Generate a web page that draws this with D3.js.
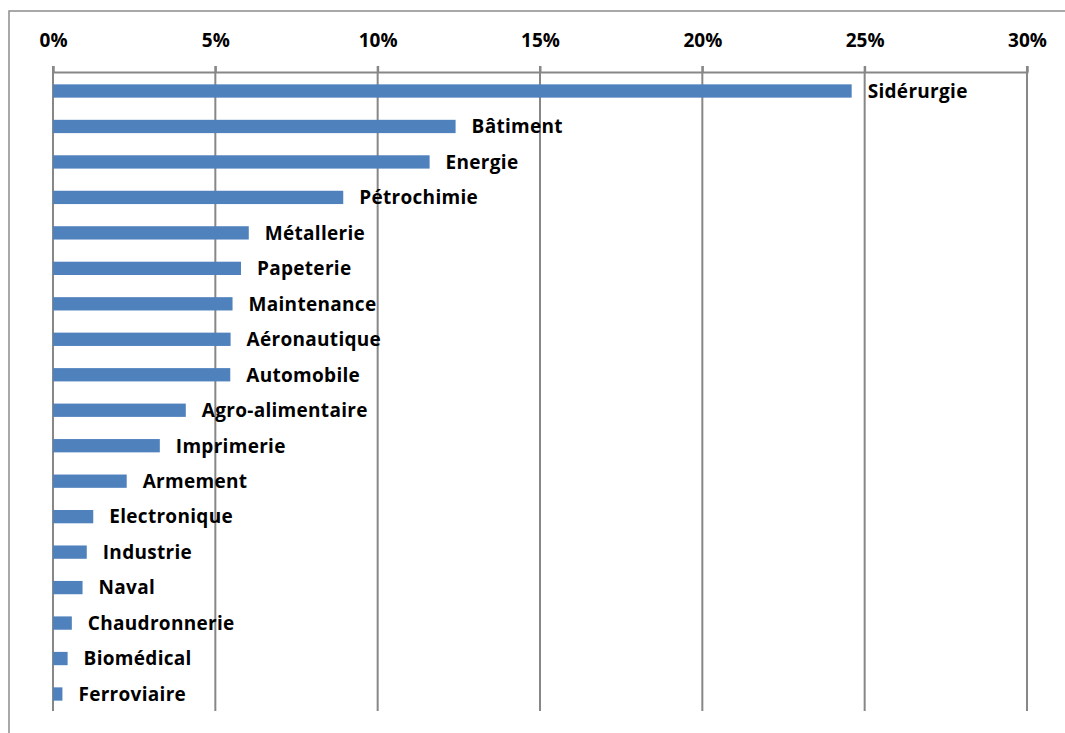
<!DOCTYPE html>
<html>
<head>
<meta charset="utf-8">
<script src="https://cdn.jsdelivr.net/npm/d3@7"></script>
<style>
  body { margin: 0; background: #fff; }
  svg { display: block; font-family: "Open Sans", Lato, sans-serif; font-weight: bold; }
</style>
</head>
<body>
<svg class="chart"></svg>
<script>
const categories = ["Sidérurgie", "Bâtiment", "Energie", "Pétrochimie", "Métallerie", "Papeterie",
  "Maintenance", "Aéronautique", "Automobile", "Agro-alimentaire", "Imprimerie", "Armement",
  "Electronique", "Industrie", "Naval", "Chaudronnerie", "Biomédical", "Ferroviaire"];
const values = [24.6, 12.4, 11.6, 8.94, 6.03, 5.79, 5.53, 5.47, 5.46, 4.09, 3.29, 2.27,
  1.24, 1.04, 0.91, 0.58, 0.45, 0.29];
const tickValues = [0, 5, 10, 15, 20, 25, 30];

const W = 1065, H = 733;
const margin = {top: 72, left: 53, right: 38, bottom: 22};
const width = W - margin.left - margin.right;
const height = H - margin.top - margin.bottom;

const svg = d3.select(".chart").attr("width", W).attr("height", H);

// outer frame (only top and left edges visible)
svg.append("path")
  .attr("d", `M9,${H} V11 H${W}`)
  .style("fill", "none")
  .style("stroke", "#8c8c8c")
  .style("stroke-width", 1.5);

const chart = svg.append("g")
  .attr("transform", `translate(${margin.left},${margin.top})`);

const x = d3.scaleLinear().domain([0, 30]).range([0, width]);
const y = d3.scaleBand().domain(categories).range([0, height + 2]).paddingInner(0.625).paddingOuter(0.348);

// gridlines
chart.selectAll(".grid")
  .data(tickValues)
  .enter().append("line")
  .attr("class", "grid")
  .attr("x1", d => x(d)).attr("x2", d => x(d))
  .attr("y1", -6).attr("y2", height)
  .style("stroke", "#878787")
  .style("stroke-width", 2);

const axis = chart.append("g")
  .call(d3.axisTop(x).tickValues(tickValues).tickSize(6).tickFormat(d => d + "%"));
axis.select(".domain").style("stroke", "#878787").style("stroke-width", 2);
axis.selectAll(".tick line").style("stroke", "#878787").style("stroke-width", 2);
axis.selectAll(".tick text")
  .attr("y", -25)
  .style("font-family", "'Open Sans', sans-serif")
  .style("font-weight", "bold")
  .style("font-size", "19px")
  .style("fill", "#000");

const data = categories.map((c, i) => ({name: c, value: values[i]}));

chart.selectAll(".bar")
  .data(data)
  .enter().append("rect")
  .attr("class", "bar")
  .attr("x", 0)
  .attr("y", d => y(d.name))
  .attr("width", d => x(d.value))
  .attr("height", y.bandwidth())
  .style("fill", "#4f81bd");

chart.selectAll(".label")
  .data(data)
  .enter().append("text")
  .attr("class", "label")
  .attr("x", d => x(d.value) + 16)
  .attr("y", d => y(d.name) + y.bandwidth() / 2)
  .attr("dy", "0.36em")
  .style("font-size", "19px")
  .style("letter-spacing", "0.3px")
  .style("fill", "#000")
  .text(d => d.name);
</script>
</body>
</html>
